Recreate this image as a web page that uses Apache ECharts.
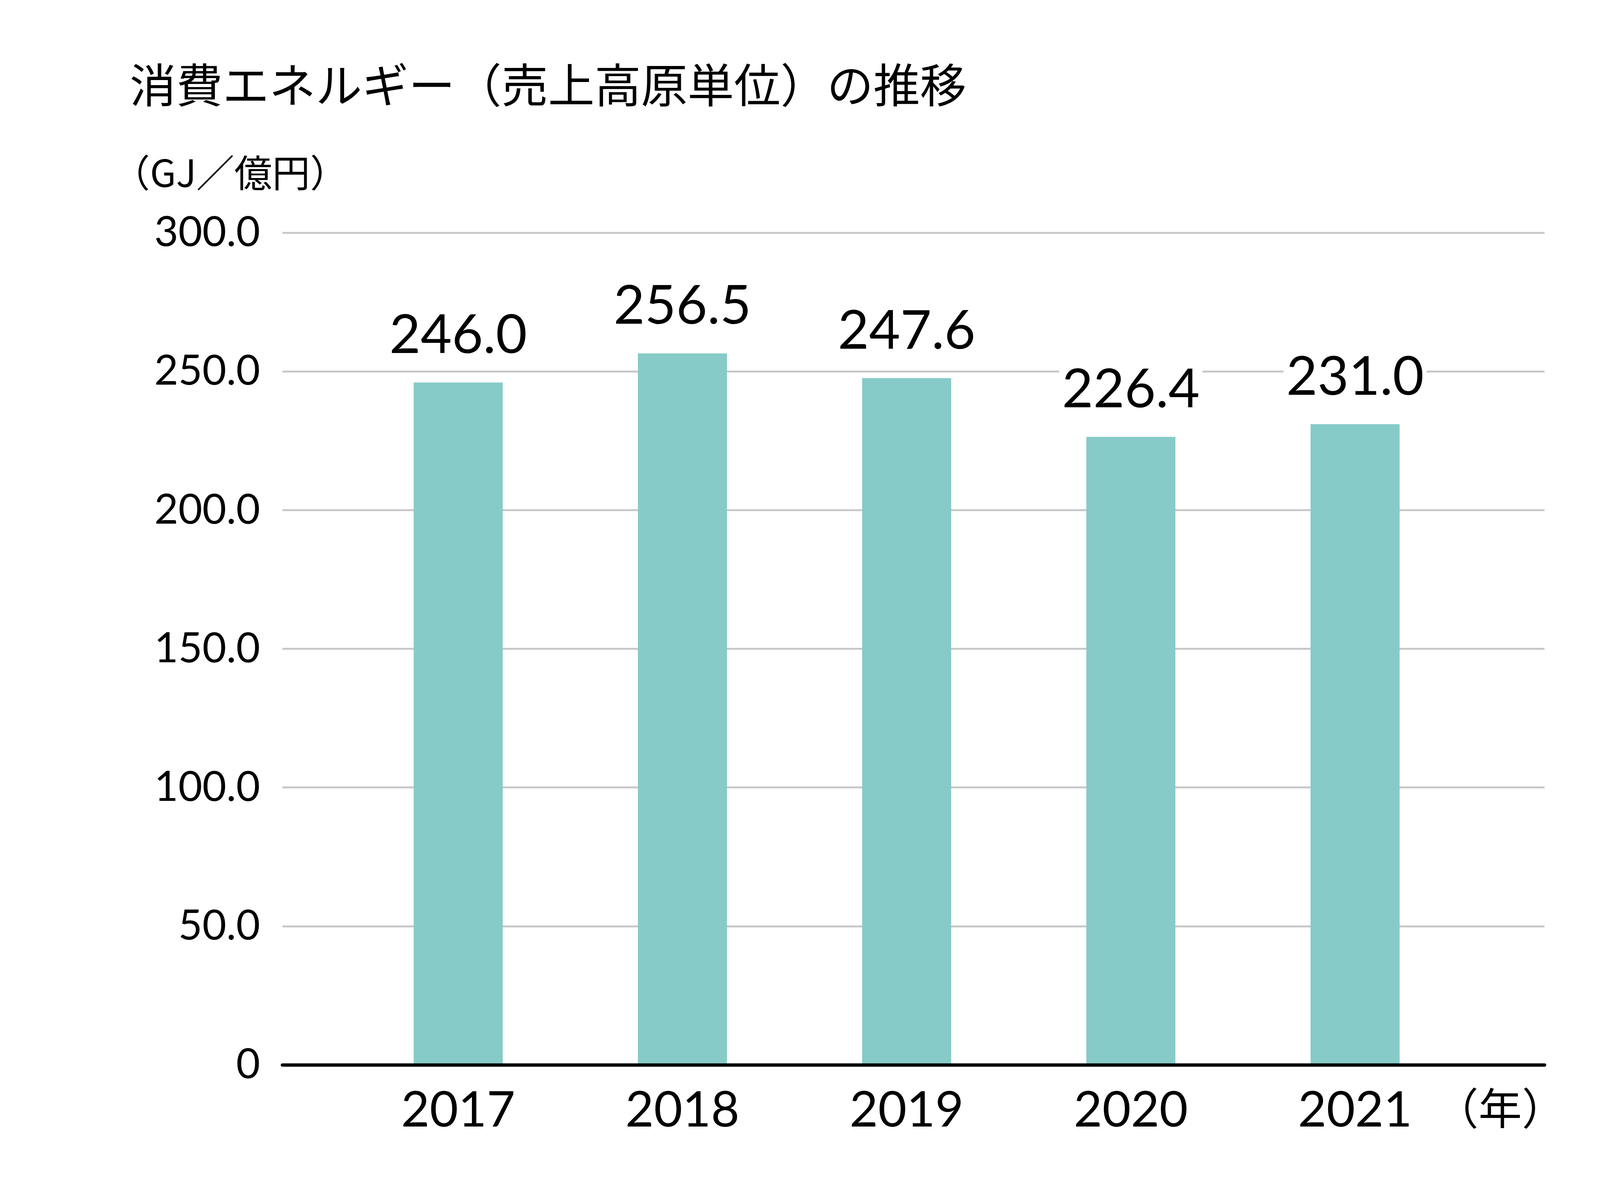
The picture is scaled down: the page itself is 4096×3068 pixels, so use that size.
<!DOCTYPE html>
<html><head><meta charset="utf-8">
<script src="https://cdn.jsdelivr.net/npm/echarts@6/dist/echarts.min.js"></script>
<style>html,body{margin:0;padding:0;background:#fff}#c{width:4096px;height:3068px}</style>
</head><body><div id="c"></div>
<script>
const titleText = '消費エネルギー（売上高原単位）の推移';
const unitText = '（GJ／億円）';
const xUnitText = '（年）';
const years = ['2017', '2018', '2019', '2020', '2021'];
const values = [246.0, 256.5, 247.6, 226.4, 231.0];
const yTicks = [0, 50, 100, 150, 200, 250, 300];

const CJK = '"Noto Sans CJK JP", "Noto Sans CJK SC", sans-serif';
const NUM = 'Lato, "Noto Sans", sans-serif';

const yMin = yTicks[0], yMax = yTicks[yTicks.length - 1], yStep = yTicks[1] - yTicks[0];

const chart = echarts.init(document.getElementById('c'), null, {renderer: 'canvas', width: 4096, height: 3068});
chart.setOption({
  backgroundColor: '#ffffff',
  animation: false,
  graphic: [
    {type: 'text', left: 332, top: 218 - 60, style: {text: titleText, font: '400 119px ' + CJK, fill: '#000'}},
    {type: 'text', left: 287, top: 445 - 51, style: {text: unitText, font: '400 97px ' + CJK, fill: '#000'}},
    {type: 'text', left: 3674, top: 2838 - 56, style: {text: xUnitText, font: '400 111px ' + CJK, fill: '#000'}}
  ],
  grid: [
    {left: 723, right: 142, top: 596, bottom: 341, containLabel: false},
    {left: 886, right: 340, top: 596, bottom: 341, containLabel: false}
  ],
  xAxis: [
    {type: 'category', gridIndex: 0, data: years, z: 10,
     axisLine: {show: true, lineStyle: {color: '#000', width: 8.7}},
     axisTick: {show: false}, axisLabel: {show: false}, splitLine: {show: false}},
    {type: 'category', gridIndex: 1, data: years,
     axisLine: {show: false}, axisTick: {show: false}, splitLine: {show: false},
     axisLabel: {show: true, color: '#000', fontFamily: NUM, fontSize: 126, margin: 54}}
  ],
  yAxis: [
    {type: 'value', gridIndex: 0, min: yMin, max: yMax, interval: yStep,
     axisLine: {show: false}, axisTick: {show: false},
     splitLine: {show: true, lineStyle: {color: '#c8c8c8', width: 4.8}},
     axisLabel: {show: true, color: '#000', fontFamily: NUM, fontSize: 106, margin: 57,
       formatter: v => v === 0 ? '0' : v.toFixed(1)}},
    {type: 'value', gridIndex: 1, min: yMin, max: yMax, interval: yStep, show: false}
  ],
  series: [{
    type: 'bar', xAxisIndex: 1, yAxisIndex: 1, data: values, barWidth: 228,
    itemStyle: {color: '#86cbc8'},
    label: {show: true, position: 'top', distance: 51, color: '#000', fontFamily: NUM, fontSize: 138,
      backgroundColor: '#ffffff', padding: [0, 7],
      formatter: p => p.value.toFixed(1)}
  }]
});
</script></body></html>
